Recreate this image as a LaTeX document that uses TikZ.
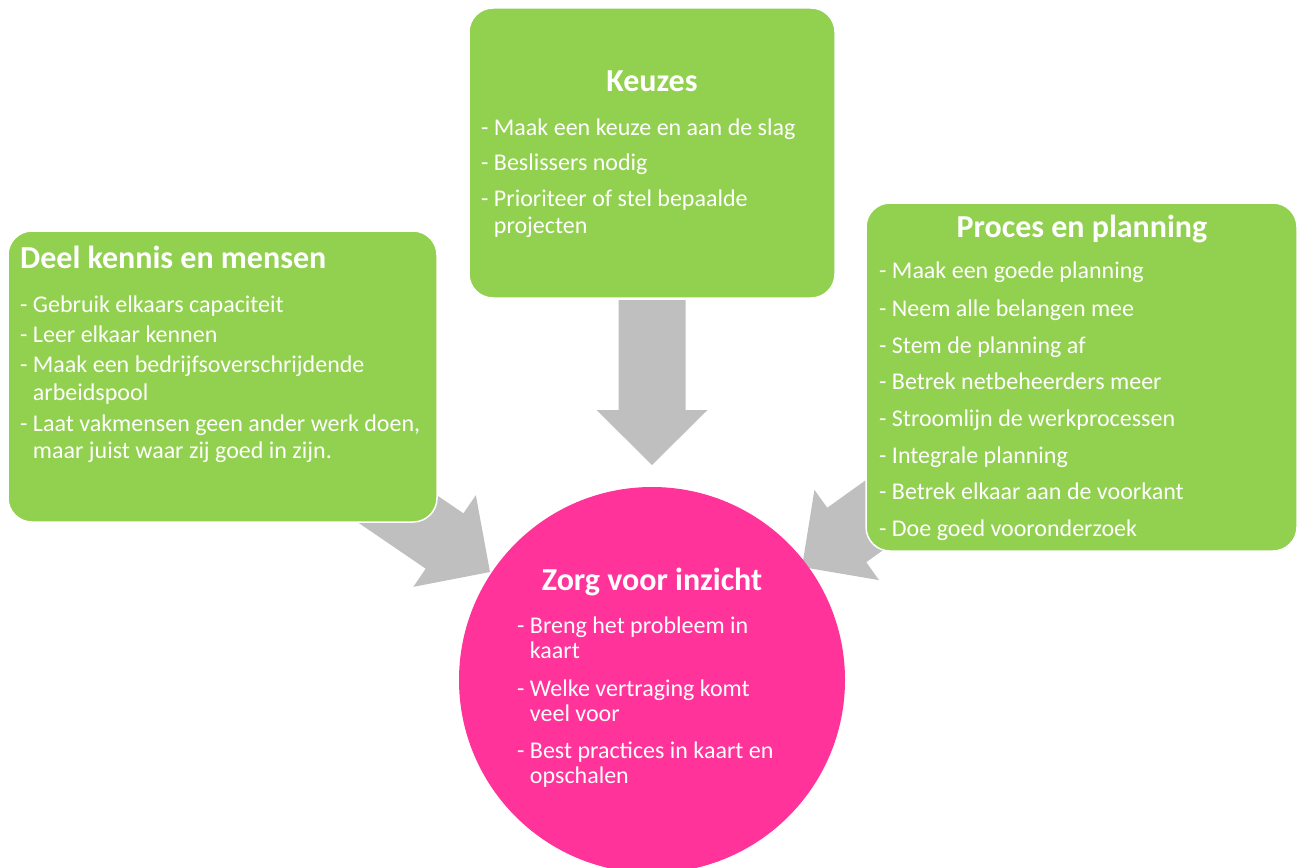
\documentclass[tikz,border=0pt]{standalone}
\usepackage{fontspec}
\setmainfont{Carlito}
\definecolor{boxgreen}{HTML}{92D050}
\definecolor{circpink}{HTML}{FF3399}
\definecolor{arrowgray}{HTML}{BFBFBF}
\newcommand{\ind}{\hphantom{- }}
\begin{document}
\begin{tikzpicture}[x=1pt,y=-1pt,
  box/.style={draw=white, line width=1.5pt, fill=boxgreen, rounded corners=24pt, inner sep=0pt},
  blockarrow/.style={fill=arrowgray},
  headtxt/.style={font=\fontsize{32}{37}\selectfont\bfseries, text=white, inner sep=0pt},
  bodytxt/.style={font=\fontsize{24}{28}\selectfont, text=white, inner sep=0pt, anchor=base west}]
\useasboundingbox (0,0) rectangle (1300,867);
% block arrows (tip at origin, pointing along local +x)
\fill[blockarrow, shift={(652,465)}, rotate=-90]
  (0,0) -- (-55,55.5) -- (-55,33.5) -- (-165,33.5) -- (-165,-33.5) -- (-55,-33.5) -- (-55,-55.5) -- cycle;
\fill[blockarrow, shift={(490,572)}, rotate=-34.3]
  (0,0) -- (-55,55.5) -- (-55,33.5) -- (-165,33.5) -- (-165,-33.5) -- (-55,-33.5) -- (-55,-55.5) -- cycle;
\fill[blockarrow, shift={(802,567)}, rotate=-144.4]
  (0,0) -- (-55,55.5) -- (-55,33.5) -- (-165,33.5) -- (-165,-33.5) -- (-55,-33.5) -- (-55,-55.5) -- cycle;
% boxes
\node[box, minimum width=366pt, minimum height=290pt] (keuzes) at (652,153) {};
\node[box, minimum width=429pt, minimum height=291pt] (deel) at (222.5,376.5) {};
\node[box, minimum width=431pt, minimum height=348pt] (proces) at (1081.5,377) {};
\node[circle, fill=circpink, minimum size=386pt, inner sep=0pt] (zorg) at (652,680) {};
% Keuzes
\node[headtxt, anchor=base] (kh) at (652,91.5) {Keuzes};
\node[bodytxt] (k1) at (481,135) {- Maak een keuze en aan de slag};
\node[bodytxt] (k2) at (481,170) {- Beslissers nodig};
\node[bodytxt] (k3) at (481,206.5) {- Prioriteer of stel bepaalde};
\node[bodytxt] (k4) at (481,233) {\ind projecten};
% Deel kennis en mensen
\node[headtxt, anchor=base west] (dh) at (20,268) {Deel kennis en mensen};
\node[bodytxt] (d1) at (20,312) {- Gebruik elkaars capaciteit};
\node[bodytxt] (d2) at (20,342) {- Leer elkaar kennen};
\node[bodytxt] (d3) at (20,372) {- Maak een bedrijfsoverschrijdende};
\node[bodytxt] (d4) at (20,400) {\ind arbeidspool};
\node[bodytxt] (d5) at (20,431) {- Laat vakmensen geen ander werk doen,};
\node[bodytxt] (d6) at (20,458) {\ind maar juist waar zij goed in zijn.};
% Proces en planning
\node[headtxt, anchor=base] (ph) at (1082,237) {Proces en planning};
\node[bodytxt] (p1) at (879,278) {- Maak een goede planning};
\node[bodytxt] (p2) at (879,316) {- Neem alle belangen mee};
\node[bodytxt] (p3) at (879,353) {- Stem de planning af};
\node[bodytxt] (p4) at (879,389) {- Betrek netbeheerders meer};
\node[bodytxt] (p5) at (879,426) {- Stroomlijn de werkprocessen};
\node[bodytxt] (p6) at (879,463) {- Integrale planning};
\node[bodytxt] (p7) at (879,499) {- Betrek elkaar aan de voorkant};
\node[bodytxt] (p8) at (879,536) {- Doe goed vooronderzoek};
% Zorg voor inzicht
\node[headtxt, anchor=base] (zh) at (652,590) {Zorg voor inzicht};
\node[bodytxt] (z1) at (517,633) {- Breng het probleem in};
\node[bodytxt] (z2) at (517,658) {\ind kaart};
\node[bodytxt] (z3) at (517,696) {- Welke vertraging komt};
\node[bodytxt] (z4) at (517,721.5) {\ind veel voor};
\node[bodytxt] (z5) at (517,758) {- Best practices in kaart en};
\node[bodytxt] (z6) at (517,783) {\ind opschalen};
\end{tikzpicture}
\end{document}
